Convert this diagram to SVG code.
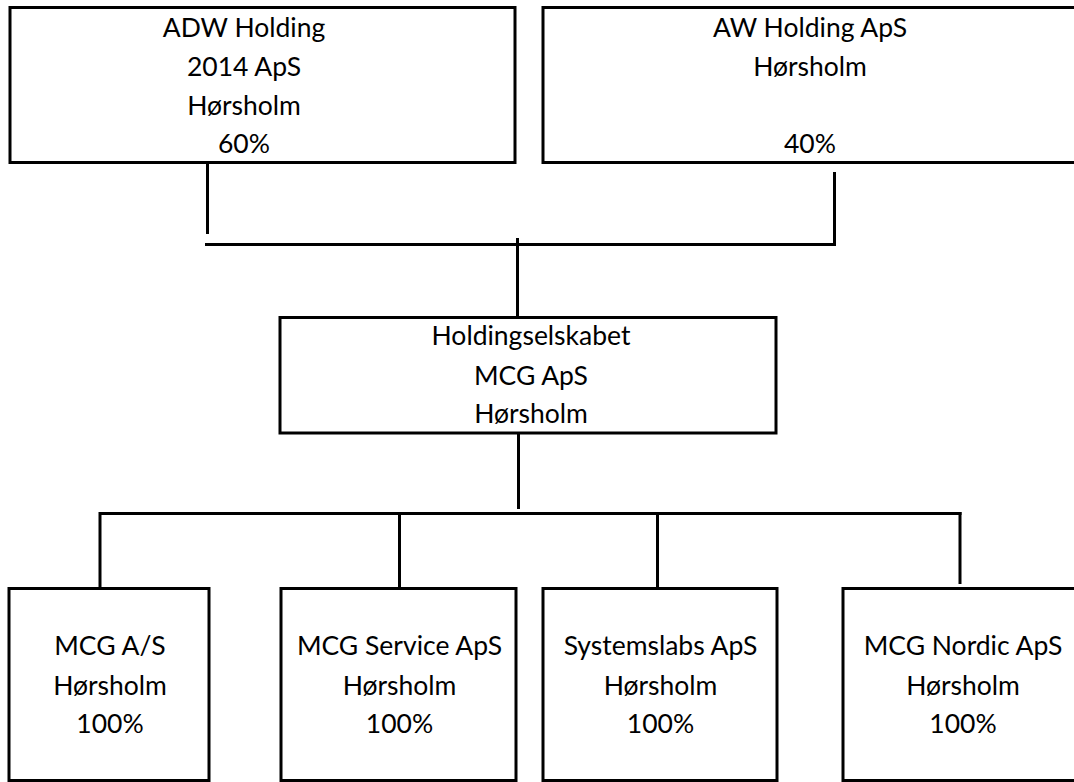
<svg xmlns="http://www.w3.org/2000/svg" width="1074" height="782" viewBox="0 0 1074 782">
<style>
.box{fill:#fff;stroke:#000;stroke-width:3}
.ln{stroke:#000;stroke-width:3;fill:none}
text{font-family:Lato,"Open Sans",sans-serif;font-size:26.5px;fill:#000;text-anchor:middle}
</style>
<rect width="1074" height="782" fill="#fff"/>
<g id="connectors">
<line class="ln" x1="207.5" y1="162" x2="207.5" y2="234"/>
<line class="ln" x1="834.5" y1="172" x2="834.5" y2="245.5"/>
<line class="ln" x1="205" y1="244.5" x2="836" y2="244.5"/>
<line class="ln" x1="517.5" y1="238" x2="517.5" y2="317"/>
<line class="ln" x1="518.5" y1="433" x2="518.5" y2="509"/>
<line class="ln" x1="100" y1="513.5" x2="961.5" y2="513.5"/>
<line class="ln" x1="100" y1="512" x2="100" y2="588"/>
<line class="ln" x1="399.5" y1="513" x2="399.5" y2="588"/>
<line class="ln" x1="657.5" y1="513" x2="657.5" y2="588"/>
<line class="ln" x1="960" y1="512" x2="960" y2="584"/>
</g>
<g id="adw">
<rect class="box" x="10" y="7.5" width="505" height="155"/>
<text x="244" y="36.5">ADW Holding</text>
<text x="244" y="75.5">2014 ApS</text>
<text x="244" y="114.5">Hørsholm</text>
<text x="244" y="153">60%</text>
</g>
<g id="aw">
<rect class="box" x="543" y="7.5" width="545" height="155"/>
<text x="810" y="36.5">AW Holding ApS</text>
<text x="810" y="75.5">Hørsholm</text>
<text x="810" y="152.5">40%</text>
</g>
<g id="mcg-holding">
<rect class="box" x="280" y="317.5" width="496" height="115.5"/>
<text x="531" y="345">Holdingselskabet</text>
<text x="531" y="384.5">MCG ApS</text>
<text x="531" y="423">Hørsholm</text>
</g>
<g id="mcg-as">
<rect class="box" x="9" y="588.5" width="200" height="192"/>
<text x="110" y="655">MCG A/S</text>
<text x="110" y="694.5">Hørsholm</text>
<text x="110" y="733">100%</text>
</g>
<g id="mcg-service">
<rect class="box" x="281" y="588.5" width="235" height="192"/>
<text x="399.5" y="655">MCG Service ApS</text>
<text x="399.5" y="694.5">Hørsholm</text>
<text x="399.5" y="733">100%</text>
</g>
<g id="systemslabs">
<rect class="box" x="543" y="588.5" width="234" height="192"/>
<text x="660.5" y="655">Systemslabs ApS</text>
<text x="660.5" y="694.5">Hørsholm</text>
<text x="660.5" y="733">100%</text>
</g>
<g id="mcg-nordic">
<rect class="box" x="843" y="588.5" width="245" height="192"/>
<text x="963" y="655">MCG Nordic ApS</text>
<text x="963" y="694.5">Hørsholm</text>
<text x="963" y="733">100%</text>
</g>
</svg>
